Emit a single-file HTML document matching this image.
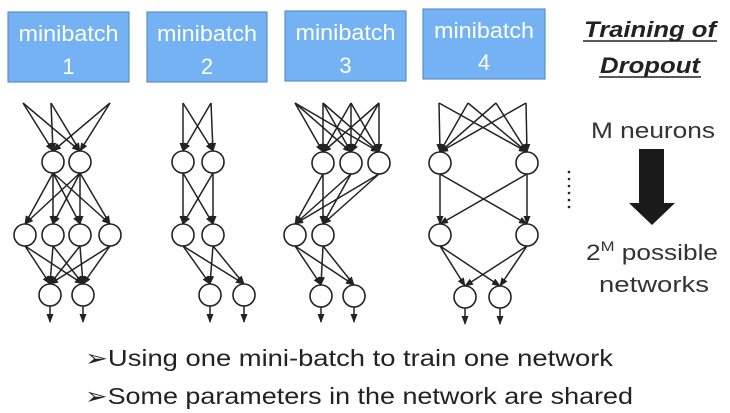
<!DOCTYPE html>
<html><head><meta charset="utf-8"><style>
html,body{margin:0;padding:0;background:#fff;}
svg{display:block;}
</style></head><body>
<svg width="730" height="413" viewBox="0 0 730 413" xmlns="http://www.w3.org/2000/svg">
<defs>
<marker id="a" markerWidth="9" markerHeight="9" refX="8" refY="4.5" orient="auto" markerUnits="userSpaceOnUse">
<path d="M0,1 L9,4.5 L0,8 z" fill="#222"/>
</marker>
</defs>
<g fill="#74b2f3" stroke="#5a8fcc" stroke-width="1.2">
<rect x="8" y="12" width="121" height="70"/>
<rect x="147" y="12" width="120" height="70"/>
<rect x="285" y="11" width="121" height="70"/>
<rect x="423" y="9" width="122" height="70"/>
</g>
<g fill="#fff" font-family="Liberation Sans, sans-serif" font-size="22" text-anchor="middle">
<text x="68.5" y="41" textLength="100" lengthAdjust="spacingAndGlyphs">minibatch</text><text x="68.5" y="74">1</text>
<text x="207" y="41" textLength="100" lengthAdjust="spacingAndGlyphs">minibatch</text><text x="207" y="74">2</text>
<text x="345.5" y="40" textLength="100" lengthAdjust="spacingAndGlyphs">minibatch</text><text x="345.5" y="73">3</text>
<text x="484" y="38" textLength="100" lengthAdjust="spacingAndGlyphs">minibatch</text><text x="484" y="70">4</text>
</g>
<g font-family="Liberation Sans, sans-serif" font-size="22" font-weight="bold" font-style="italic" fill="#222" text-anchor="middle">
<text x="650" y="37" textLength="132" lengthAdjust="spacingAndGlyphs">Training of</text>
<text x="650" y="73" textLength="100" lengthAdjust="spacingAndGlyphs">Dropout</text>
</g>
<line x1="583" y1="41" x2="717" y2="41" stroke="#222" stroke-width="1.5"/>
<line x1="599" y1="77" x2="701" y2="77" stroke="#222" stroke-width="1.5"/>
<g stroke="#222" stroke-width="1.5" marker-end="url(#a)">
<line x1="23" y1="103" x2="53" y2="151"/><line x1="23" y1="103" x2="80" y2="151"/>
<line x1="51" y1="103" x2="53" y2="151"/><line x1="51" y1="103" x2="80" y2="151"/>
<line x1="110" y1="103" x2="53" y2="151"/><line x1="110" y1="103" x2="80" y2="151"/>
<line x1="53" y1="173" x2="25" y2="224"/><line x1="53" y1="173" x2="53" y2="224"/><line x1="53" y1="173" x2="80" y2="224"/><line x1="53" y1="173" x2="110" y2="224"/>
<line x1="80" y1="173" x2="25" y2="224"/><line x1="80" y1="173" x2="53" y2="224"/><line x1="80" y1="173" x2="80" y2="224"/><line x1="80" y1="173" x2="110" y2="224"/>
<line x1="25" y1="246" x2="50" y2="284"/><line x1="25" y1="246" x2="83" y2="284"/>
<line x1="53" y1="246" x2="50" y2="284"/><line x1="53" y1="246" x2="83" y2="284"/>
<line x1="80" y1="246" x2="50" y2="284"/><line x1="80" y1="246" x2="83" y2="284"/>
<line x1="110" y1="246" x2="50" y2="284"/><line x1="110" y1="246" x2="83" y2="284"/>
<line x1="50" y1="306" x2="50" y2="322"/><line x1="83" y1="306" x2="83" y2="322"/>
<line x1="183" y1="103" x2="183" y2="151"/><line x1="183" y1="103" x2="213" y2="151"/>
<line x1="211" y1="103" x2="183" y2="151"/><line x1="211" y1="103" x2="213" y2="151"/>
<line x1="183" y1="173" x2="183" y2="224"/><line x1="183" y1="173" x2="213" y2="224"/>
<line x1="213" y1="173" x2="183" y2="224"/><line x1="213" y1="173" x2="213" y2="224"/>
<line x1="183" y1="246" x2="210" y2="284"/><line x1="183" y1="246" x2="244" y2="284"/>
<line x1="213" y1="246" x2="210" y2="284"/><line x1="213" y1="246" x2="244" y2="284"/>
<line x1="210" y1="306" x2="210" y2="322"/><line x1="244" y1="306" x2="244" y2="322"/>
<line x1="295" y1="103" x2="323" y2="152"/><line x1="295" y1="103" x2="351" y2="152"/><line x1="295" y1="103" x2="379" y2="152"/>
<line x1="323" y1="103" x2="323" y2="152"/><line x1="323" y1="103" x2="351" y2="152"/><line x1="323" y1="103" x2="379" y2="152"/>
<line x1="351" y1="103" x2="323" y2="152"/><line x1="351" y1="103" x2="351" y2="152"/><line x1="351" y1="103" x2="379" y2="152"/>
<line x1="379" y1="103" x2="323" y2="152"/><line x1="379" y1="103" x2="351" y2="152"/><line x1="379" y1="103" x2="379" y2="152"/>
<line x1="323" y1="174" x2="295" y2="224"/><line x1="323" y1="174" x2="323" y2="224"/>
<line x1="351" y1="174" x2="295" y2="224"/><line x1="351" y1="174" x2="323" y2="224"/>
<line x1="379" y1="174" x2="295" y2="224"/><line x1="379" y1="174" x2="323" y2="224"/>
<line x1="295" y1="246" x2="321" y2="285"/><line x1="295" y1="246" x2="354" y2="285"/>
<line x1="323" y1="246" x2="321" y2="285"/><line x1="323" y1="246" x2="354" y2="285"/>
<line x1="321" y1="307" x2="321" y2="322"/><line x1="354" y1="307" x2="354" y2="322"/>
<line x1="439" y1="103" x2="440" y2="152"/><line x1="439" y1="103" x2="527" y2="152"/>
<line x1="468" y1="103" x2="440" y2="152"/><line x1="468" y1="103" x2="527" y2="152"/>
<line x1="496" y1="103" x2="440" y2="152"/><line x1="496" y1="103" x2="527" y2="152"/>
<line x1="526" y1="103" x2="440" y2="152"/><line x1="526" y1="103" x2="527" y2="152"/>
<line x1="440" y1="174" x2="440" y2="224"/><line x1="440" y1="174" x2="527" y2="224"/>
<line x1="527" y1="174" x2="440" y2="224"/><line x1="527" y1="174" x2="527" y2="224"/>
<line x1="440" y1="246" x2="465" y2="286"/><line x1="440" y1="246" x2="500" y2="286"/>
<line x1="527" y1="246" x2="465" y2="286"/><line x1="527" y1="246" x2="500" y2="286"/>
<line x1="465" y1="308" x2="465" y2="324"/><line x1="500" y1="308" x2="500" y2="324"/>
</g>
<g fill="#fff" stroke="#222" stroke-width="1.6">
<circle cx="53" cy="162" r="11"/><circle cx="80" cy="162" r="11"/>
<circle cx="25" cy="235" r="11"/><circle cx="53" cy="235" r="11"/><circle cx="80" cy="235" r="11"/><circle cx="110" cy="235" r="11"/>
<circle cx="50" cy="295" r="11"/><circle cx="83" cy="295" r="11"/>
<circle cx="183" cy="162" r="11"/><circle cx="213" cy="162" r="11"/>
<circle cx="183" cy="235" r="11"/><circle cx="213" cy="235" r="11"/>
<circle cx="210" cy="295" r="11"/><circle cx="244" cy="295" r="11"/>
<circle cx="323" cy="163" r="11"/><circle cx="351" cy="163" r="11"/><circle cx="379" cy="163" r="11"/>
<circle cx="295" cy="235" r="11"/><circle cx="323" cy="235" r="11"/>
<circle cx="321" cy="296" r="11"/><circle cx="354" cy="296" r="11"/>
<circle cx="440" cy="163" r="11"/><circle cx="527" cy="163" r="11"/>
<circle cx="440" cy="235" r="11"/><circle cx="527" cy="235" r="11"/>
<circle cx="465" cy="297" r="11"/><circle cx="500" cy="297" r="11"/>
</g>
<g fill="#222">
<circle cx="569" cy="172" r="1.3"/><circle cx="569" cy="179" r="1.3"/><circle cx="569" cy="186" r="1.3"/><circle cx="569" cy="193" r="1.3"/><circle cx="569" cy="200" r="1.3"/><circle cx="569" cy="207" r="1.3"/>
</g>
<path d="M639,149 L664,149 L664,203 L675,203 L652,225 L629,203 L639,203 z" fill="#1a1a1a"/>
<g font-family="Liberation Sans, sans-serif" font-size="22" fill="#333" text-anchor="middle">
<text x="653" y="138" textLength="124" lengthAdjust="spacingAndGlyphs">M neurons</text>
<text x="652" y="260" textLength="132" lengthAdjust="spacingAndGlyphs">2<tspan font-size="14" dy="-9">M</tspan><tspan dy="9"> possible</tspan></text>
<text x="654" y="292" textLength="110" lengthAdjust="spacingAndGlyphs">networks</text>
</g>
<g font-family="Liberation Sans, sans-serif" font-size="23" fill="#222">
<text x="85" y="366" textLength="528" lengthAdjust="spacingAndGlyphs">➢Using one mini-batch to train one network</text>
<text x="85" y="404" textLength="548" lengthAdjust="spacingAndGlyphs">➢Some parameters in the network are shared</text>
</g>
</svg>
</body></html>
